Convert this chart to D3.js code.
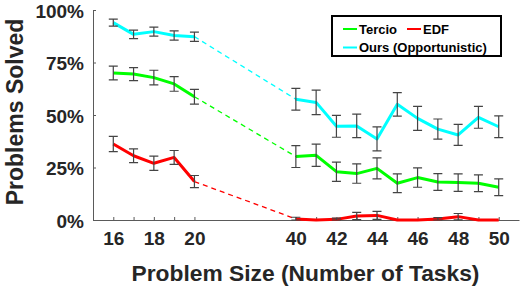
<!DOCTYPE html>
<html><head><meta charset="utf-8">
<script src="https://cdn.jsdelivr.net/npm/d3@7"></script>
<style>body{margin:0;background:#fff;}svg{display:block;font-family:"Liberation Sans",Arial,sans-serif;}</style>
</head><body><svg id="c" width="523" height="286"></svg>
<script>
const sizes = [16,17,18,19,20,40,41,42,43,44,45,46,47,48,49,50];
const tercio = [0.700,0.695,0.678,0.648,0.587, 0.302,0.308,0.230,0.221,0.246,0.175,0.202,0.181,0.178,0.175,0.156];
const tercioErr = [0.033,0.031,0.035,0.035,0.035, 0.052,0.053,0.046,0.046,0.050,0.045,0.046,0.040,0.042,0.040,0.040];
const edf = [0.362,0.306,0.270,0.298,0.183, 0.005,0.000,0.003,0.019,0.022,0.000,0.000,0.005,0.016,0.000,0.000];
const edfErr = [0.036,0.033,0.034,0.033,0.029, 0.008,0.000,0.006,0.017,0.019,0.000,0.000,0.006,0.015,0.000,0.000];
const ours = [0.940,0.884,0.897,0.879,0.873, 0.575,0.560,0.446,0.448,0.386,0.551,0.484,0.433,0.405,0.489,0.444];
const oursErr = [0.017,0.020,0.021,0.022,0.022, 0.052,0.058,0.052,0.056,0.057,0.056,0.057,0.048,0.050,0.052,0.052];
const yTicks = [0,0.25,0.5,0.75,1];
const yTickLabels = ["0%","25%","50%","75%","100%"];
const xLabelSizes = [16,18,20,40,42,44,46,48,50];
const seriesNames = ["Tercio","EDF","Ours (Opportunistic)"];
const seriesColors = ["#00ff00","#ff0000","#00ffff"];

const svg = d3.select("#c");
const pos = s => s <= 20 ? s - 16 : s - 31;
const x = d3.scaleLinear().domain([-1,20]).range([93,519]);
const y = d3.scaleLinear().domain([0,1]).range([220,10]);
const txt = "#262626", axc = "#5a5a5a";

// axes
const xa = svg.append("g").attr("transform","translate(0,220)")
  .call(d3.axisBottom(x).tickValues(sizes.map(pos)).tickSize(-3).tickSizeOuter(0)
    .tickFormat((d)=>{const s = d<=4? d+16 : d+31; return xLabelSizes.includes(s)? s : "";}));
xa.select(".domain").attr("stroke",axc).attr("stroke-width",1);
xa.selectAll(".tick line").attr("stroke",axc);
xa.selectAll(".tick text").attr("fill",txt).attr("font-size",19).attr("font-weight","bold")
  .attr("font-family","Liberation Sans, Arial, sans-serif").attr("y",12).attr("dy","0.71em");

const ya = svg.append("g").attr("transform","translate(93,0)")
  .call(d3.axisLeft(y).tickValues(yTicks).tickSize(-3).tickSizeOuter(0)
    .tickFormat((d,i)=>yTickLabels[i]));
ya.select(".domain").attr("stroke",axc).attr("stroke-width",1);
ya.selectAll(".tick line").attr("stroke",axc);
ya.selectAll(".tick text").attr("fill",txt).attr("font-size",19).attr("font-weight","bold")
  .attr("font-family","Liberation Sans, Arial, sans-serif").attr("x",-9).attr("dy","0.38em");

// titles
svg.append("text").attr("x",305.5).attr("y",281).attr("text-anchor","middle")
  .attr("font-size",22.8).attr("font-weight","bold").attr("fill",txt).text("Problem Size (Number of Tasks)");
svg.append("text").attr("transform","translate(23,112) rotate(-90)").attr("text-anchor","middle")
  .attr("font-size",23).attr("font-weight","bold").attr("fill",txt).text("Problems Solved");

const series = [[tercio,tercioErr],[edf,edfErr],[ours,oursErr]];
const line = d3.line().x(d=>x(pos(d.s))).y(d=>y(d.v));
series.forEach(([vals,errs],k)=>{
  const pts = sizes.map((s,i)=>({s,v:vals[i],e:errs[i]}));
  const left = pts.slice(0,5), right = pts.slice(5);
  svg.append("path").attr("d",line([pts[4],pts[5]])).attr("fill","none")
    .attr("stroke",seriesColors[k]).attr("stroke-width",1.3).attr("stroke-dasharray","5,4");
  [left,right].forEach(seg=>{
    svg.append("path").attr("d",line(seg)).attr("fill","none")
      .attr("stroke",seriesColors[k]).attr("stroke-width",3).attr("stroke-linejoin","round");
  });
  const eb = svg.append("g").attr("stroke","#444").attr("stroke-width",1.2).attr("fill","none");
  pts.filter(p=>p.e>0).forEach(p=>{
    const cx = x(pos(p.s)), t = y(p.v+p.e), b = y(Math.max(0,p.v-p.e));
    eb.append("path").attr("d",`M${cx},${t}V${b}M${cx-4.5},${t}H${cx+4.5}M${cx-4.5},${b}H${cx+4.5}`);
  });
});

// legend
const lg = svg.append("g");
lg.append("rect").attr("x",332).attr("y",16).attr("width",169).attr("height",40)
  .attr("fill","#fff").attr("stroke","#000").attr("stroke-width",2);
const items = [[343,29,0],[407,29,1],[343,47.5,2]];
items.forEach(([lx,ly,k])=>{
  lg.append("line").attr("x1",lx).attr("x2",lx+14).attr("y1",ly).attr("y2",ly)
    .attr("stroke",seriesColors[k]).attr("stroke-width",2);
  lg.append("text").attr("x",lx+16).attr("y",ly+4.7).attr("font-size",13).attr("font-weight","bold")
    .attr("fill","#000").text(seriesNames[k]);
});
</script></body></html>
